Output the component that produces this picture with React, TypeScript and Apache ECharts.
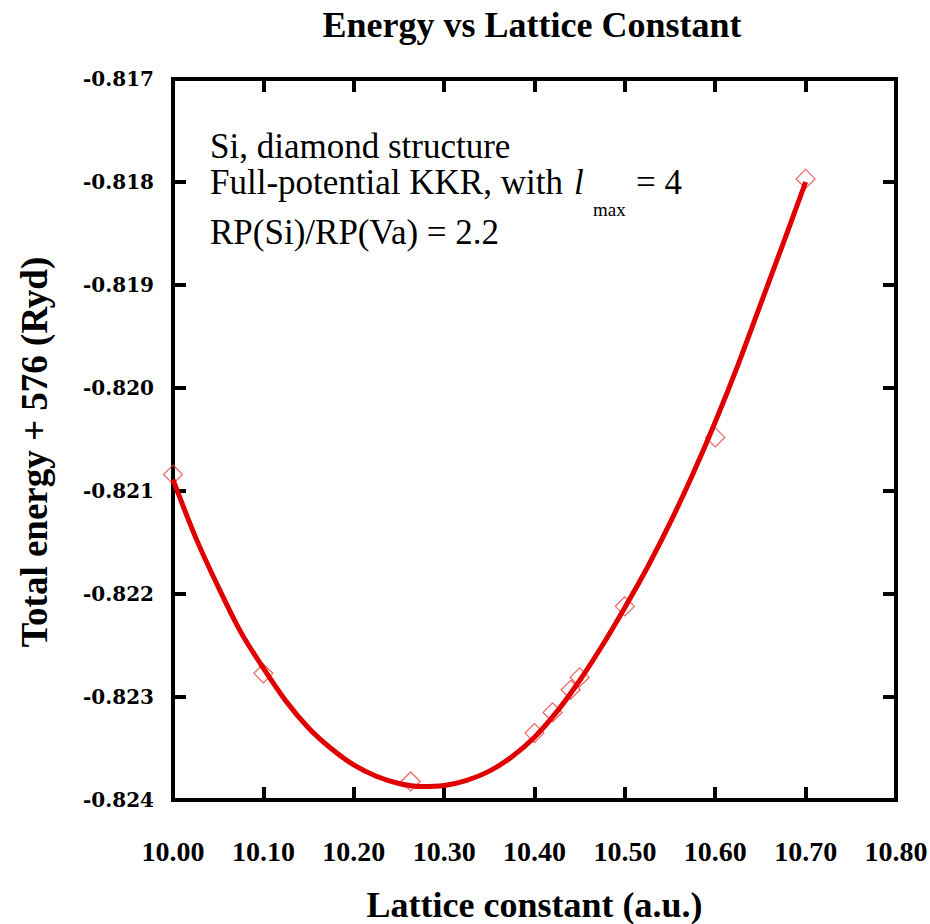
import React, { useEffect, useRef } from "react";
import * as echarts from "echarts";

// Measured points (lattice constant in a.u., total energy + 576 in Ryd)
const latticeConst = [10.0, 10.1, 10.263, 10.4, 10.42, 10.44, 10.45, 10.5, 10.6, 10.7];
const totalEnergy = [-0.82084, -0.82277, -0.82382, -0.82335, -0.82315, -0.82293, -0.82281, -0.82212, -0.82048, -0.81797];

// Fitted curve
const fitX = [10.0, 10.025, 10.05, 10.075, 10.1, 10.125, 10.15, 10.175, 10.2, 10.225, 10.25, 10.275, 10.3, 10.325, 10.35, 10.375, 10.4, 10.425, 10.45, 10.475, 10.5, 10.525, 10.55, 10.575, 10.6, 10.625, 10.65, 10.675, 10.7];
const fitY = [-0.82089, -0.82145, -0.82193, -0.82237, -0.82272, -0.82304, -0.8233, -0.8235, -0.82366, -0.82377, -0.82384, -0.82387, -0.82386, -0.82381, -0.82372, -0.82358, -0.82339, -0.82314, -0.82284, -0.8225, -0.82213, -0.82174, -0.82131, -0.82084, -0.82033, -0.81978, -0.81919, -0.8186, -0.818];

const xTicks = { min: 10.0, max: 10.8, step: 0.1 };
const yTicks = { min: -0.824, max: -0.817, step: 0.001 };

const SERIF = '"Liberation Serif", "Times New Roman", serif';

export default function App() {
  const ref = useRef<HTMLDivElement>(null);
  useEffect(() => {
    if (!ref.current) return;
    const chart = echarts.init(ref.current, undefined, { renderer: "svg" });
    const tickStyle = { show: true, inside: true, length: 13, lineStyle: { color: "#000", width: 4 } };
    const txt = (text: string, x: number, y: number, font: string, rotation = 0, align = "left") => ({
      type: "text",
      x,
      y,
      rotation,
      style: { text, font, fill: "#000", verticalAlign: "middle", align, textAlign: align, textVerticalAlign: "middle" },
    });
    const option: any = {
      animation: false,
      backgroundColor: "#fff",
      title: {
        text: "Energy vs Lattice Constant",
        left: 532,
        top: 7,
        textAlign: "center",
        padding: 0,
        textStyle: { fontFamily: SERIF, fontWeight: "bold", fontSize: 36, color: "#000" },
      },
      grid: {
        left: 173,
        right: 34,
        top: 79,
        bottom: 124,
        show: true,
        borderColor: "#000",
        borderWidth: 4,
        backgroundColor: "transparent",
        containLabel: false,
        outerBoundsMode: "none",
      },
      xAxis: [
        {
          type: "value",
          position: "bottom",
          min: xTicks.min,
          max: xTicks.max,
          interval: xTicks.step,
          axisLine: { show: false },
          axisTick: tickStyle,
          splitLine: { show: false },
          axisLabel: {
            formatter: (v: number) => v.toFixed(2),
            fontFamily: SERIF,
            fontWeight: "bold",
            fontSize: 28,
            color: "#000",
            margin: 37,
          },
          name: "Lattice constant (a.u.)",
          nameLocation: "middle",
          nameGap: 87,
          nameTextStyle: { fontFamily: SERIF, fontWeight: "bold", fontSize: 36, lineHeight: 36, color: "#000" },
        },
        {
          type: "value",
          position: "top",
          min: xTicks.min,
          max: xTicks.max,
          interval: xTicks.step,
          axisLine: { show: false },
          axisTick: tickStyle,
          splitLine: { show: false },
          axisLabel: { show: false },
        },
      ],
      yAxis: [
        {
          type: "value",
          position: "left",
          min: yTicks.min,
          max: yTicks.max,
          interval: yTicks.step,
          axisLine: { show: false },
          axisTick: tickStyle,
          splitLine: { show: false },
          axisLabel: {
            formatter: (v: number) => v.toFixed(3),
            fontFamily: '"DejaVu Serif", serif',
            fontWeight: "bold",
            fontSize: 20,
            color: "#000",
            margin: 19,
          },
        },
        {
          type: "value",
          position: "right",
          min: yTicks.min,
          max: yTicks.max,
          interval: yTicks.step,
          axisLine: { show: false },
          axisTick: tickStyle,
          splitLine: { show: false },
          axisLabel: { show: false },
        },
      ],
      graphic: [
        txt("Total energy + 576 (Ryd)", 34, 452, `bold 37px ${SERIF}`, Math.PI / 2, "center"),
        txt("Si, diamond structure", 210, 146, `normal 35px ${SERIF}`),
        txt("Full-potential KKR, with", 210, 182, `normal 35px ${SERIF}`),
        txt("l", 574, 182, `italic 35px ${SERIF}`),
        txt("max", 593, 209, `normal 19px ${SERIF}`),
        txt("= 4", 636, 182, `normal 35px ${SERIF}`),
        txt("RP(Si)/RP(Va) = 2.2", 210, 232, `normal 35px ${SERIF}`),
      ],
      series: [
        {
          type: "scatter",
          name: "calc",
          data: latticeConst.map((x, i) => [x, totalEnergy[i]]),
          symbol: "diamond",
          symbolSize: 19,
          itemStyle: { color: "transparent", borderColor: "#e8393a", borderWidth: 1.2 },
          z: 2,
        },
        {
          type: "line",
          name: "fit",
          data: fitX.map((x, i) => [x, fitY[i]]),
          showSymbol: false,
          symbol: "none",
          smooth: 0.3,
          lineStyle: { color: "#e00000", width: 5, cap: "butt" },
          z: 3,
        },
      ],
    };
    chart.setOption(option);
    return () => chart.dispose();
  }, []);
  return (
    <div
      ref={ref}
      style={{ position: "fixed", left: 0, top: 0, width: 930, height: 924, background: "#fff" }}
    />
  );
}
